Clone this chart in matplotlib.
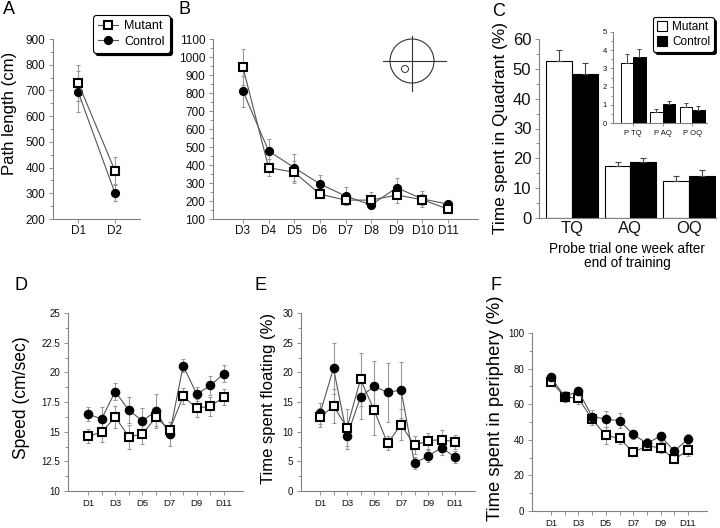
import matplotlib

matplotlib.use("Agg")
import matplotlib.pyplot as plt
from matplotlib.patches import Circle
from matplotlib.ticker import MultipleLocator

plt.rcParams["font.family"] = ["Liberation Sans", "DejaVu Sans"]

# ---- data -------------------------------------------------------------
days_a = [1, 2]
labels_a = ["D1", "D2"]
path_a_mut = [730, 388]
path_a_mut_err = [70, 53]
path_a_ctl = [695, 301]
path_a_ctl_err = [80, 32]

days_b = [3, 4, 5, 6, 7, 8, 9, 10, 11]
labels_b = ["D3", "D4", "D5", "D6", "D7", "D8", "D9", "D10", "D11"]
path_b_mut = [942, 385, 360, 238, 205, 205, 233, 207, 155]
path_b_mut_err = [100, 46, 60, 20, 25, 43, 43, 30, 15]
path_b_ctl = [810, 478, 385, 295, 228, 178, 274, 211, 183]
path_b_ctl_err = [85, 65, 76, 48, 48, 20, 52, 45, 19]

quadrants = ["TQ", "AQ", "OQ"]
quad_mut = [52.5, 17.5, 12.5]
quad_mut_err = [3.8, 1.3, 1.6]
quad_ctl = [48.2, 18.7, 14.2]
quad_ctl_err = [3.8, 1.3, 2.0]

platforms = ["P TQ", "P AQ", "P OQ"]
plat_mut = [3.3, 0.6, 0.88]
plat_mut_err = [0.5, 0.18, 0.22]
plat_ctl = [3.62, 1.05, 0.73]
plat_ctl_err = [0.45, 0.18, 0.2]

days = list(range(1, 12))
day_labels = ["D1", "", "D3", "", "D5", "", "D7", "", "D9", "", "D11"]

speed_mut = [14.63, 14.94, 16.24, 14.58, 14.78, 16.24, 15.14, 17.98, 16.97, 17.16, 17.92]
speed_mut_err = [0.56, 0.8, 0.9, 1.0, 0.85, 0.8, 0.7, 0.67, 0.76, 0.8, 0.7]
speed_ctl = [16.49, 16.07, 18.37, 16.83, 15.9, 16.74, 14.78, 20.56, 18.15, 18.9, 19.89]
speed_ctl_err = [0.6, 1.0, 0.7, 1.07, 1.07, 1.4, 1.0, 0.53, 0.6, 0.8, 0.7]

float_mut = [12.42, 14.33, 10.67, 18.82, 13.65, 8.03, 11.18, 7.7, 8.48, 8.65, 8.31]
float_mut_err = [1.6, 2.9, 3.1, 4.5, 4.2, 1.2, 2.6, 1.5, 1.35, 1.6, 1.2]
float_ctl = [13.09, 20.67, 9.27, 15.84, 17.64, 16.63, 17.02, 4.66, 5.9, 7.3, 5.73]
float_ctl_err = [1.8, 4.3, 2.2, 3.7, 4.3, 5.0, 4.8, 1.0, 1.0, 1.2, 1.0]

periph_mut = [72.7, 64.2, 63.3, 51.5, 42.5, 40.8, 33.0, 36.5, 35.6, 29.0, 34.1]
periph_mut_err = [2.0, 3.0, 3.0, 3.0, 4.9, 3.0, 2.0, 2.5, 3.0, 2.0, 3.0]
periph_ctl = [75.1, 64.2, 67.4, 53.0, 51.7, 50.7, 43.1, 38.0, 42.1, 33.7, 40.4]
periph_ctl_err = [1.5, 2.5, 2.0, 3.5, 4.7, 4.1, 2.5, 3.0, 2.5, 2.5, 3.0]

# ---- style ------------------------------------------------------------
AXIS_GRAY = "#808080"
LINE_GRAY = "#555555"
ERR_GRAY = "#9a9a9a"

W, H = 720, 528
fig = plt.figure(figsize=(7.2, 5.28), dpi=100)
renderer = fig.canvas.get_renderer()


def ax_px(left, top, right, bottom):
    return fig.add_axes([left / W, 1 - bottom / H, (right - left) / W, (bottom - top) / H])


def vlabel(text, x, y, length):
    # vertical axis title, scaled so that it spans `length` pixels
    t = fig.text(x / W, 1 - y / H, text, rotation=90, ha="center", va="center", fontsize=12)
    span = t.get_window_extent(renderer).height
    t.set_fontsize(12 * length / span)
    return t


def style_axes(ax, tick_size):
    for side in ("top", "right"):
        ax.spines[side].set_visible(False)
    for side in ("left", "bottom"):
        ax.spines[side].set_color(AXIS_GRAY)
        ax.spines[side].set_linewidth(0.8)
    ax.tick_params(which="both", color=AXIS_GRAY, width=0.6, labelsize=tick_size, labelcolor="#111111")
    ax.tick_params(which="major", length=3, pad=2.5)
    ax.tick_params(which="minor", length=2)
    ax.set_facecolor("none")


def line_panel(ax, x, mut, mut_err, ctl, ctl_err, ms=5.3, ctl_on_top=False):
    ax.errorbar(x, ctl, yerr=ctl_err, fmt="none", ecolor=ERR_GRAY, elinewidth=0.8, capsize=1.6, capthick=0.8, zorder=1)
    ax.errorbar(x, mut, yerr=mut_err, fmt="none", ecolor=ERR_GRAY, elinewidth=0.8, capsize=1.6, capthick=0.8, zorder=1)
    z_ctl, z_mut = (4, 3) if ctl_on_top else (3, 4)
    h_ctl, = ax.plot(x, ctl, color=LINE_GRAY, lw=0.8, marker="o", ms=ms + 0.3, mfc="black", mec="black", zorder=z_ctl)
    h_mut, = ax.plot(x, mut, color=LINE_GRAY, lw=0.8, marker="s", ms=ms, mfc="white", mec="black", mew=1.5, zorder=z_mut)
    return h_mut, h_ctl


# ---- A ----------------------------------------------------------------
ax_a = ax_px(53, 39, 140, 219)
h_mut, h_ctl = line_panel(ax_a, days_a, path_a_mut, path_a_mut_err, path_a_ctl, path_a_ctl_err)
ax_a.set_xlim(0.32, 2.68)
ax_a.set_ylim(200, 900)
ax_a.set_xticks(days_a, labels_a)
ax_a.yaxis.set_major_locator(MultipleLocator(100))
ax_a.yaxis.set_minor_locator(MultipleLocator(50))
style_axes(ax_a, 8.5)
ax_a.tick_params(axis="x", pad=1)
vlabel("Path length (cm)", 10, 113, 123)

leg = fig.legend([h_mut, h_ctl], ["Mutant", "Control"], loc="upper left",
                 bbox_to_anchor=(93 / W, 1 - 15 / H), fontsize=9, fancybox=True,
                 shadow={"color": "black", "alpha": 1}, framealpha=1,
                 edgecolor="black", handlelength=1.6, handletextpad=0.5,
                 borderpad=0.4, labelspacing=0.3, borderaxespad=0)
leg.get_frame().set_linewidth(0.8)

# ---- B ----------------------------------------------------------------
ax_b = ax_px(213, 39, 478, 219)
line_panel(ax_b, days_b, path_b_mut, path_b_mut_err, path_b_ctl, path_b_ctl_err)
ax_b.set_xlim(1.83, 12.17)
ax_b.set_ylim(100, 1100)
ax_b.set_xticks(days_b, labels_b)
ax_b.yaxis.set_major_locator(MultipleLocator(100))
ax_b.yaxis.set_minor_locator(MultipleLocator(50))
style_axes(ax_b, 8.5)
ax_b.tick_params(axis="x", pad=1)

# pool sketch
ax_pool = ax_px(380, 34, 444, 88)
ax_pool.set_xlim(380, 444)
ax_pool.set_ylim(88, 34)
ax_pool.set_aspect("equal")
ax_pool.axis("off")
ax_pool.add_patch(Circle((412, 61), 22, fill=False, ec="#333333", lw=0.8))
ax_pool.plot([383, 446], [61, 61], color="#333333", lw=0.8, clip_on=False)
ax_pool.plot([412, 412], [36, 91], color="#333333", lw=0.8, clip_on=False)
ax_pool.add_patch(Circle((405, 69), 3.5, fill=False, ec="#333333", lw=0.7))

# ---- C ----------------------------------------------------------------
ax_c = ax_px(539, 39, 716, 218)
xc = range(len(quadrants))
bw = 0.44
err_kw = dict(ecolor="#444444", elinewidth=0.8, capsize=2.2, capthick=0.8)
bar_mut = ax_c.bar([i - bw / 2 for i in xc], quad_mut, bw, color="white", edgecolor="black", lw=0.8,
                   yerr=[[0] * 3, quad_mut_err], error_kw=err_kw)
bar_ctl = ax_c.bar([i + bw / 2 for i in xc], quad_ctl, bw, color="black", edgecolor="black", lw=0.8,
                   yerr=[[0] * 3, quad_ctl_err], error_kw=err_kw)
ax_c.set_xlim(-0.56, 2.46)
ax_c.set_ylim(0, 60)
ax_c.set_xticks(list(xc), quadrants)
ax_c.yaxis.set_major_locator(MultipleLocator(10))
ax_c.yaxis.set_minor_locator(MultipleLocator(5))
style_axes(ax_c, 12)
ax_c.tick_params(axis="x", length=0, pad=2)
vlabel("Time spent in Quadrant (%)", 501, 128, 211)
fig.text(627 / W, 1 - 256 / H, "Probe trial one week after\nend of training", fontsize=9.8,
         ha="center", va="center", linespacing=1.05)

ax_in = ax_px(613, 32, 707, 123)
in_kw = dict(ecolor="#444444", elinewidth=0.7, capsize=1.5, capthick=0.7)
ax_in.bar([i - 0.21 for i in xc], plat_mut, 0.42, color="white", edgecolor="black", lw=0.7,
          yerr=[[0] * 3, plat_mut_err], error_kw=in_kw)
ax_in.bar([i + 0.21 for i in xc], plat_ctl, 0.42, color="black", edgecolor="black", lw=0.7,
          yerr=[[0] * 3, plat_ctl_err], error_kw=in_kw)
ax_in.set_xlim(-0.68, 2.5)
ax_in.set_ylim(0, 5)
ax_in.set_xticks(list(xc), platforms)
ax_in.yaxis.set_major_locator(MultipleLocator(1))
ax_in.yaxis.set_minor_locator(MultipleLocator(0.5))
style_axes(ax_in, 5.5)
ax_in.tick_params(axis="x", length=0, pad=3)
ax_in.tick_params(which="major", length=2)
ax_in.tick_params(which="minor", length=1.2)

leg_c = fig.legend([bar_mut.patches[0], bar_ctl.patches[0]], ["Mutant", "Control"], loc="upper left",
                   bbox_to_anchor=(653 / W, 1 - 17 / H), fontsize=8.5, fancybox=True,
                   shadow={"color": "black", "alpha": 1}, framealpha=1, edgecolor="black",
                   handlelength=0.9, handleheight=1.0, handletextpad=0.4, borderpad=0.3,
                   labelspacing=0.25, borderaxespad=0)
leg_c.get_frame().set_linewidth(0.8)

# ---- D, E, F ----------------------------------------------------------
ax_d = ax_px(68, 313, 243, 491)
line_panel(ax_d, days, speed_mut, speed_mut_err, speed_ctl, speed_ctl_err, ms=5.6)
ax_d.set_xlim(-0.47, 12.4)
ax_d.set_ylim(10, 25)
ax_d.set_xticks(days, day_labels)
ax_d.yaxis.set_major_locator(MultipleLocator(2.5))
ax_d.yaxis.set_minor_locator(MultipleLocator(1.25))
ax_d.yaxis.set_major_formatter(lambda v, p: f"{v:g}")
style_axes(ax_d, 7)
ax_d.tick_params(axis="x", pad=2.5, labelsize=6.8)
vlabel("Speed (cm/sec)", 22, 398, 123)

ax_e = ax_px(301, 313, 475, 491)
line_panel(ax_e, days, float_mut, float_mut_err, float_ctl, float_ctl_err, ms=5.6)
ax_e.set_xlim(-0.41, 12.48)
ax_e.set_ylim(0, 30)
ax_e.set_xticks(days, day_labels)
ax_e.yaxis.set_major_locator(MultipleLocator(5))
ax_e.yaxis.set_minor_locator(MultipleLocator(2.5))
style_axes(ax_e, 7)
ax_e.tick_params(axis="x", pad=2.5, labelsize=6.8)
vlabel("Time spent floating (%)", 268, 398, 171)

ax_f = ax_px(532, 333, 707, 511)
line_panel(ax_f, days, periph_mut, periph_mut_err, periph_ctl, periph_ctl_err, ms=5.6, ctl_on_top=True)
ax_f.set_xlim(-0.39, 12.39)
ax_f.set_ylim(0, 100)
ax_f.set_xticks(days, day_labels)
ax_f.yaxis.set_major_locator(MultipleLocator(20))
ax_f.yaxis.set_minor_locator(MultipleLocator(10))
style_axes(ax_f, 7)
ax_f.tick_params(axis="x", pad=2.5, labelsize=6.8)
vlabel("Time spent in periphery (%)", 496, 408, 225)

# ---- panel letters ----------------------------------------------------
for letter, x, y in [("A", 3, 10), ("B", 178, 10), ("C", 492, 12),
                     ("D", 14, 286), ("E", 254, 286), ("F", 490, 286)]:
    fig.text(x / W, 1 - y / H, letter, fontsize=13, va="center", ha="left")

fig.savefig("out.png", dpi=100, facecolor="white")
